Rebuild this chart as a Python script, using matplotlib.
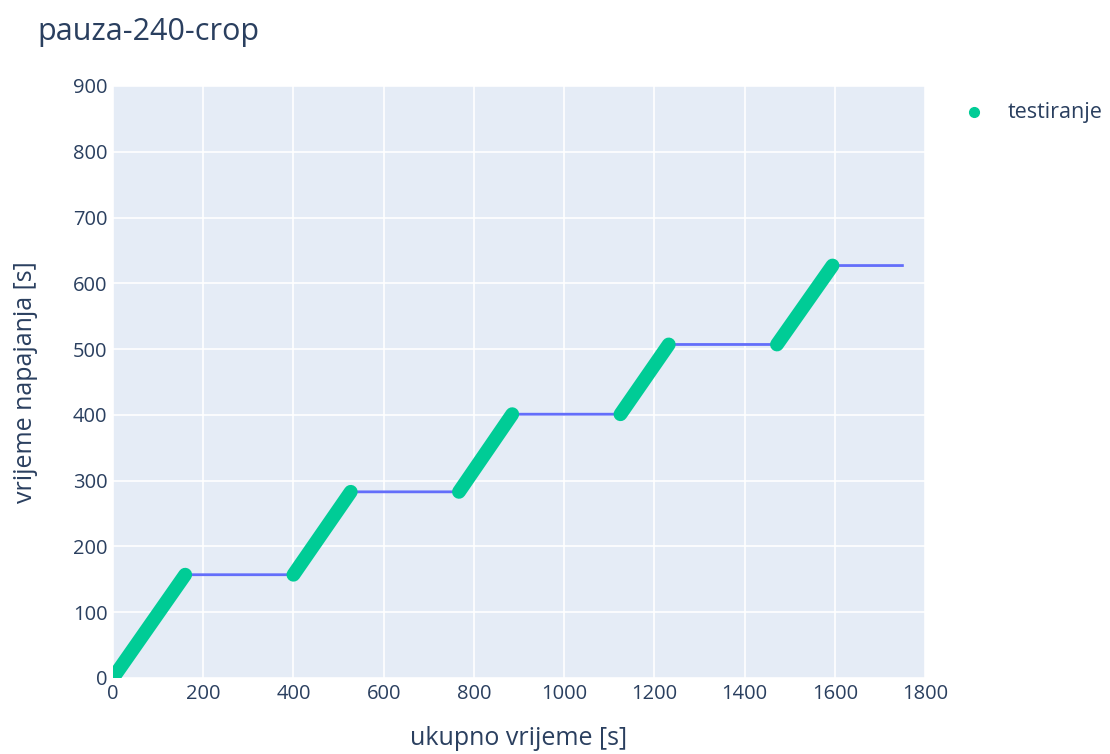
import matplotlib.pyplot as plt

plt.rcParams['font.family'] = ['Open Sans', 'DejaVu Sans']

# breakpoints of the power-on time curve
ukupno = [0, 160, 400, 527, 767, 885, 1125, 1232, 1472, 1595, 1750]
napajanje = [0, 157, 157, 283, 283, 401, 401, 507, 507, 627, 627]
# index pairs where testing was running (green markers)
testiranje = [(0, 1), (2, 3), (4, 5), (6, 7), (8, 9)]

xticks = list(range(0, 1801, 200))
yticks = list(range(0, 901, 100))

txt = '#2a3f5f'
green = '#00cc96'
blue = '#636efa'

fig = plt.figure(figsize=(11.1, 7.54), dpi=100)
ax = fig.add_axes([0.1018, 0.1008, 0.7315, 0.7852])
ax.set_facecolor('#E5ECF6')

ax.plot(ukupno, napajanje, color=blue, lw=2, zorder=2)
for a, b in testiranje:
    ax.plot(ukupno[a:b + 1], napajanje[a:b + 1], color=green, lw=10,
            solid_capstyle='round', zorder=3)

ax.set_xlim(0, 1800)
ax.set_ylim(0, 900)
ax.set_xticks(xticks)
ax.set_yticks(yticks)
ax.grid(True, color='white', lw=1.2, zorder=0)
ax.set_axisbelow(True)
for s in ax.spines.values():
    s.set_visible(False)
ax.tick_params(length=0, labelsize=14.5, labelcolor=txt, pad=4)
ax.set_xlabel('ukupno vrijeme [s]', fontsize=18, color=txt, labelpad=16)
ax.set_ylabel('vrijeme napajanja [s]', fontsize=18, color=txt, labelpad=25)

fig.text(0.034, 0.958, 'pauza-240-crop', fontsize=22, color=txt, va='center')

# legend
fig.lines.append(plt.Line2D([0.8775], [0.851], marker='o', ms=7, color=green,
                            lw=0, transform=fig.transFigure))
fig.text(0.9075, 0.851, 'testiranje', fontsize=15.5, color=txt, va='center')

fig.savefig('out.png', dpi=100)
